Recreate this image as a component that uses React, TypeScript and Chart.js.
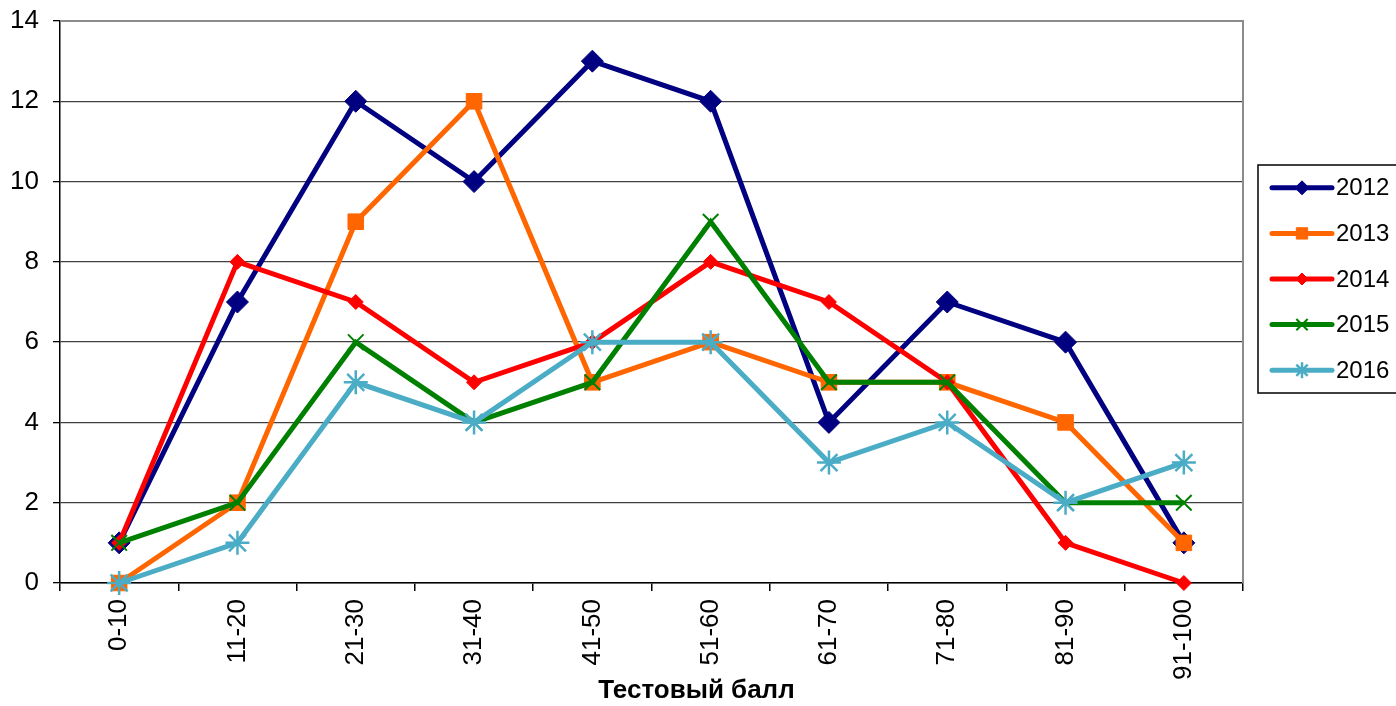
import React, { useEffect, useRef } from 'react';
import { Chart, registerables } from 'chart.js';
import { drawPoint } from 'chart.js/helpers';

Chart.register(...registerables);

const categories = ['0-10', '11-20', '21-30', '31-40', '41-50', '51-60', '61-70', '71-80', '81-90', '91-100'];
const years = ['2012', '2013', '2014', '2015', '2016'];
const values2012 = [1, 7, 12, 10, 13, 12, 4, 7, 6, 1];
const values2013 = [0, 2, 9, 12, 5, 6, 5, 5, 4, 1];
const values2014 = [1, 8, 7, 5, 6, 8, 7, 5, 1, 0];
const values2015 = [1, 2, 6, 4, 5, 9, 5, 5, 2, 2];
const values2016 = [0, 1, 5, 4, 6, 6, 3, 4, 2, 3];
const xTitle = 'Тестовый балл';
const yMin = 0;
const yMax = 14;
const yStep = 2;

const FONT = '"Liberation Sans", Arial, sans-serif';

const seriesValues = [values2012, values2013, values2014, values2015, values2016];
const colors = ['#000080', '#FF6600', '#FF0000', '#008000', '#4BACC6'];
const pointStyles = ['rectRot', 'rect', 'rectRot', 'crossRot', 'star'];
const pointRadii = [11, 11, 7.5, 11, 12];
const pointBorders = [1, 1, 1, 2, 2.5];
const legendRadii = [7, 8, 6, 8, 8];

const framePlugin = {
  id: 'frame',
  beforeDatasetsDraw(chart: any) {
    const { ctx, chartArea } = chart;
    ctx.save();
    ctx.strokeStyle = '#8c8c8c';
    ctx.lineWidth = 2;
    ctx.beginPath();
    ctx.moveTo(chartArea.left, chartArea.top);
    ctx.lineTo(chartArea.right, chartArea.top);
    ctx.lineTo(chartArea.right, chartArea.bottom);
    ctx.stroke();
    ctx.restore();
  },
  afterDraw(chart: any) {
    const { ctx, chartArea } = chart;
    ctx.save();
    // axis title
    ctx.fillStyle = '#000';
    ctx.font = `bold 26px ${FONT}`;
    ctx.textAlign = 'center';
    ctx.textBaseline = 'middle';
    ctx.fillText(xTitle, chartArea.left + (chartArea.right - chartArea.left) * 0.538, 691);

    // legend
    const boxLeft = chartArea.right + 15;
    const boxTop = 165;
    const boxBottom = 393;
    ctx.strokeStyle = '#000';
    ctx.lineWidth = 1.5;
    ctx.strokeRect(boxLeft, boxTop, 1402 - boxLeft, boxBottom - boxTop);
    const gap = (boxBottom - boxTop) / years.length;
    chart.data.datasets.forEach((ds: any, i: number) => {
      const y = boxTop + gap * (i + 0.5);
      const x0 = boxLeft + 14;
      const x1 = boxLeft + 74;
      ctx.strokeStyle = ds.borderColor;
      ctx.lineWidth = 5;
      ctx.lineCap = 'round';
      ctx.beginPath();
      ctx.moveTo(x0, y);
      ctx.lineTo(x1, y);
      ctx.stroke();
      ctx.lineCap = 'butt';
      ctx.fillStyle = ds.borderColor;
      ctx.strokeStyle = ds.borderColor;
      ctx.lineWidth = ds.pointBorderWidth;
      drawPoint(ctx, { pointStyle: ds.pointStyle, radius: legendRadii[i], rotation: 0, borderWidth: ds.pointBorderWidth }, (x0 + x1) / 2, y);
      ctx.fillStyle = '#000';
      ctx.font = `24px ${FONT}`;
      ctx.textAlign = 'left';
      ctx.textBaseline = 'middle';
      ctx.fillText(ds.label, x1 + 4, y + 1);
    });
    ctx.restore();
  },
};

export default function App() {
  const ref = useRef<HTMLCanvasElement | null>(null);
  useEffect(() => {
    const canvas = ref.current;
    if (!canvas) return;
    const datasets = years.map((year, i) => ({
      label: year,
      data: seriesValues[i],
      borderColor: colors[i],
      backgroundColor: colors[i],
      borderWidth: 5,
      pointStyle: pointStyles[i],
      pointRadius: pointRadii[i],
      pointBorderWidth: pointBorders[i],
      pointBackgroundColor: colors[i],
      pointBorderColor: colors[i],
      tension: 0,
      fill: false,
      clip: false,
      order: years.length - i,
    }));
    const chart = new Chart(canvas, {
      type: 'line',
      data: { labels: categories, datasets },
      options: {
        animation: false,
        responsive: false,
        events: [],
        layout: { padding: { left: 0, right: 153, top: 21, bottom: 0 } },
        plugins: {
          legend: { display: false },
          tooltip: { enabled: false },
        },
        scales: {
          x: {
            type: 'category',
            offset: true,
            grid: {
              offset: true,
              drawOnChartArea: false,
              drawTicks: true,
              tickLength: 8,
              color: '#000',
              lineWidth: 1.5,
            },
            border: { color: '#000', width: 1.5 },
            ticks: {
              autoSkip: false,
              minRotation: 90,
              maxRotation: 90,
              padding: 8,
              color: '#000',
              font: { family: FONT, size: 26 },
            },
            afterFit: (scale: any) => {
              scale.height = 123;
              scale.paddingLeft = 0;
              scale.paddingRight = 0;
            },
          },
          y: {
            min: yMin,
            max: yMax,
            ticks: {
              stepSize: yStep,
              padding: 14,
              color: '#000',
              font: { family: FONT, size: 26 },
            },
            grid: {
              color: (c: any) => (c.tick && c.tick.value === yMax ? 'rgba(0,0,0,0)' : '#404040'),
              tickColor: '#000',
              tickLength: 7,
              lineWidth: 1.3,
            },
            border: { color: '#000', width: 1.5 },
            afterFit: (scale: any) => {
              scale.width = 60;
              scale.paddingTop = 0;
              scale.paddingBottom = 0;
            },
          },
        },
      },
      plugins: [framePlugin],
    } as any);
    return () => chart.destroy();
  }, []);
  return (
    <div style={{ position: 'fixed', left: 0, top: 0, width: 1396, height: 706, background: '#fff' }}>
      <canvas ref={ref} width={1396} height={706} style={{ display: 'block', width: 1396, height: 706 }} />
    </div>
  );
}
